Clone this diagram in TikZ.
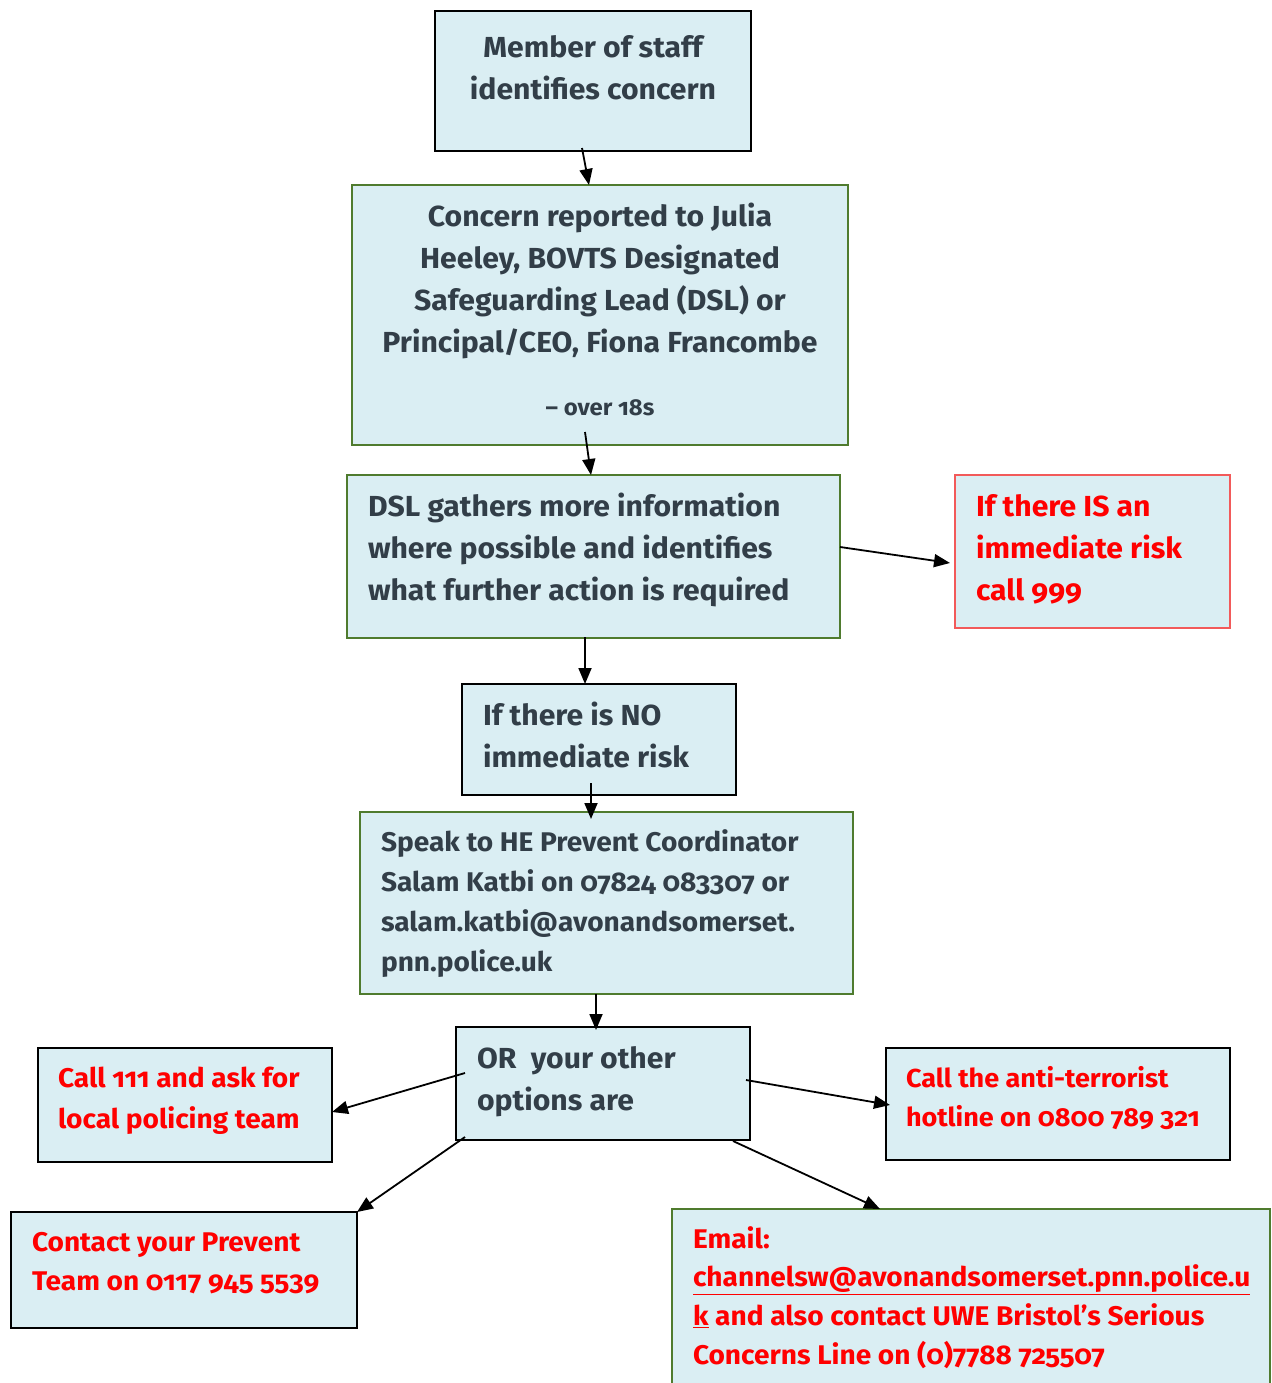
\documentclass[tikz,border=0pt]{standalone}
\usepackage{fontspec}
\setmainfont{Fira Sans}[Numbers=OldStyle, FakeStretch=1.04]
\usetikzlibrary{arrows.meta,calc}
\definecolor{fillb}{HTML}{DAEEF3}
\definecolor{tgray}{HTML}{323E48}
\definecolor{gborder}{HTML}{4F7B2E}
\definecolor{rborder}{HTML}{F25A5A}
\definecolor{rtext}{HTML}{FF0000}
% #1 W, #2 H, #3 first baseline offset, #4 font size, #5 baselineskip, #6 left pad, #7 text
\newcommand\lbx[7]{\parbox[c][#2pt][t]{#1pt}{\fontsize{#4}{#5}\selectfont\bfseries\raggedright\leftskip=#6pt\relax
\vspace*{\dimexpr#3pt-0.7\baselineskip\relax}\strut #7\par}}
\newcommand\cbx[6]{\parbox[c][#2pt][t]{#1pt}{\fontsize{#4}{#5}\selectfont\bfseries\centering
\vspace*{\dimexpr#3pt-0.7\baselineskip\relax}\strut #6\par}}
\tikzset{
  bx/.style={fill=fillb, line width=2.5pt, inner sep=0pt, outer sep=0pt, anchor=north west, text=tgray},
  blk/.style={bx, draw=black},
  grn/.style={bx, draw=gborder},
  redb/.style={bx, draw=rborder, text=rtext},
  redt/.style={text=rtext},
  arr/.style={line width=1.8pt, -{Triangle[length=16pt,width=13pt]}}
}
\begin{document}
\begin{tikzpicture}[x=1pt,y=-1pt]
\useasboundingbox (0,0) rectangle (1271,1383);
\node[blk] (n1) at (435,11) {\cbx{316}{140}{47}{29}{42}{Member of staff\\identifies concern}};
\node[grn] (n2) at (352,185) {\cbx{496}{260}{41}{29}{42}{Concern reported to Julia\\Heeley, BOVTS Designated\\Safeguarding Lead (DSL) or\\Principal/CEO, Fiona Francombe\\[21pt]{\fontsize{23}{42}\selectfont – over 18s}}};
\node[grn] (n3) at (347,475) {\lbx{493}{163}{41}{29}{42}{21}{DSL gathers more information\\where possible and identifies\\what further action is required}};
\node[redb] (n4) at (955,475) {\lbx{275}{153}{41}{29}{42}{21}{If there IS an\\immediate risk\\call 999}};
\node[blk] (n5) at (462,684) {\lbx{274}{111}{41}{29}{42}{21}{If there is NO\\immediate risk}};
\node[grn] (n6) at (360,812) {\lbx{493}{182}{39}{27}{40}{21}{Speak to HE Prevent Coordinator\\Salam Katbi on 07824 083307 or\\salam.katbi@avonandsomerset.\\pnn.police.uk}};
\node[blk] (n7) at (456,1027) {\lbx{294}{113}{41}{29}{42}{21}{OR\ \ your other\\options are}};
\node[blk, redt] (n8) at (38,1048) {\lbx{294}{114}{39}{27}{41}{20}{Call 111 and ask for\\local policing team}};
\node[blk, redt] (n9) at (886,1048) {\lbx{344}{112}{39}{26}{39}{20}{Call the anti-terrorist\\hotline on 0800 789 321}};
\node[blk, redt] (n10) at (11,1212) {\lbx{346}{116}{39}{27}{39}{21}{Contact your Prevent\\Team on 0117 945 5539}};
\node[grn, redt] (n11) at (672,1209) {\lbx{598}{200}{39}{27}{38.7}{21}{Email:\\\underline{channelsw@avonandsomerset.pnn.police.u}\\\underline{k} and also contact UWE Bristol’s Serious\\Concerns Line on (0)7788 725507}};
% connectors
\draw[arr] ($(n1.south west)+(147,-3)$) -- ($(n2.north west)+(237,0)$);
\draw[arr] ($(n2.south west)+(233,-13)$) -- ($(n3.north west)+(244,0)$);
\draw[arr] ($(n3.north east)+(0,72)$) -- ($(n4.north west)+(-5,88)$);
\draw[arr] ($(n3.south west)+(238,-1)$) -- ($(n5.north west)+(123,0)$);
\draw[arr] ($(n5.south west)+(129,-12)$) -- ($(n6.north west)+(231,7)$);
\draw[arr] ($(n6.south west)+(236,0)$) -- ($(n7.north west)+(140,3)$);
\draw[arr] ($(n7.north west)+(9,46)$) -- ($(n8.north east)+(0,64)$);
\draw[arr] ($(n7.north east)+(-4,53)$) -- ($(n9.north west)+(4,57)$);
\draw[arr] ($(n7.south west)+(9,-3)$) -- (n10.north east);
\draw[arr] ($(n7.south west)+(277,1)$) -- ($(n11.north west)+(208,0)$);
\end{tikzpicture}
\end{document}
